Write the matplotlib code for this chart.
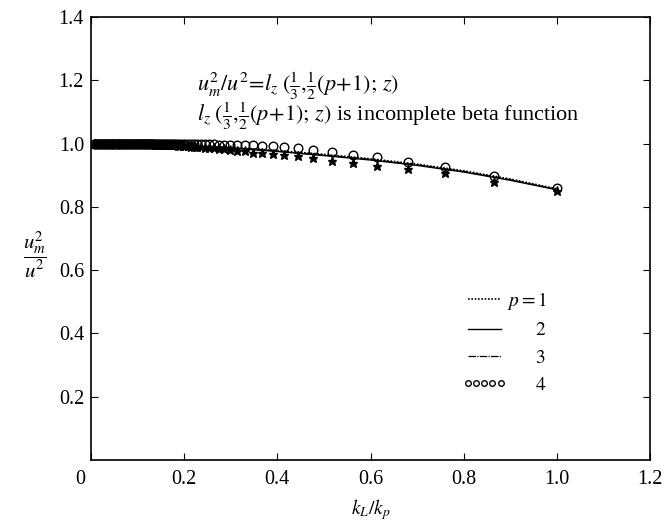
import matplotlib
matplotlib.use("Agg")
import matplotlib.pyplot as plt
from matplotlib.lines import Line2D

plt.rcParams['font.family'] = ['Liberation Serif', 'DejaVu Serif']
plt.rcParams['mathtext.fontset'] = 'stix'

# Theory curves (p = 1, 2, 3)
x_line = [0.0, 0.1, 0.2, 0.3, 0.4, 0.5, 0.6, 0.7, 0.8, 0.9, 1.0]
y_p1 = [1.0, 0.999, 0.996, 0.988, 0.978, 0.966, 0.952, 0.935, 0.914, 0.888, 0.857]
y_p2 = [1.0, 0.998, 0.994, 0.986, 0.975, 0.962, 0.948, 0.931, 0.910, 0.884, 0.854]
y_p3 = [1.0, 0.998, 0.995, 0.987, 0.976, 0.964, 0.950, 0.933, 0.912, 0.886, 0.855]

# p = 4 points (circles)
x_p4 = [1.0, 0.866, 0.760, 0.680, 0.614, 0.562, 0.517, 0.477, 0.445, 0.415,
        0.390, 0.368, 0.348, 0.330, 0.313, 0.299, 0.286, 0.274, 0.263, 0.253,
        0.244, 0.236, 0.228, 0.221, 0.214, 0.208, 0.202, 0.197, 0.192, 0.187,
        0.183, 0.179, 0.175, 0.171, 0.168, 0.165, 0.162, 0.159, 0.156, 0.153,
        0.150, 0.147, 0.144, 0.141, 0.138, 0.135, 0.132, 0.129, 0.126, 0.123,
        0.120, 0.117, 0.114, 0.111, 0.108, 0.105, 0.102, 0.099, 0.096, 0.093,
        0.090, 0.087, 0.084, 0.081, 0.078, 0.075, 0.072, 0.069, 0.066, 0.063,
        0.060, 0.057, 0.054, 0.051, 0.048, 0.045, 0.042, 0.039, 0.036, 0.033,
        0.030, 0.027, 0.024, 0.021, 0.018, 0.015, 0.012, 0.009, 0.006]
y_p4 = [0.861, 0.898, 0.925, 0.943, 0.956, 0.964, 0.973, 0.980, 0.985, 0.989,
        0.991, 0.993, 0.994, 0.995, 0.996, 0.996, 0.997, 0.997, 0.998, 0.998,
        0.998, 0.999, 0.999, 0.999, 0.999, 0.999, 0.999, 1.0, 1.0, 1.0,
        1.0, 1.0, 1.0, 1.0, 1.0, 1.0, 1.0, 1.0, 1.0, 1.0,
        1.0, 1.0, 1.0, 1.0, 1.0, 1.0, 1.0, 1.0, 1.0, 1.0,
        1.0, 1.0, 1.0, 1.0, 1.0, 1.0, 1.0, 1.0, 1.0, 1.0,
        1.0, 1.0, 1.0, 1.0, 1.0, 1.0, 1.0, 1.0, 1.0, 1.0,
        1.0, 1.0, 1.0, 1.0, 1.0, 1.0, 1.0, 1.0, 1.0, 1.0,
        1.0, 1.0, 1.0, 1.0, 1.0, 1.0, 1.0, 1.0, 1.0]

# starred points (same abscissae, slightly lower)
y_star = [0.851, 0.880, 0.906, 0.919, 0.930, 0.938, 0.946, 0.954, 0.961, 0.964,
          0.966, 0.969, 0.971, 0.975, 0.978, 0.980, 0.982, 0.984, 0.985, 0.986,
          0.987, 0.988, 0.989, 0.990, 0.990, 0.991, 0.992, 0.992, 0.993, 0.993,
          0.994, 0.994, 0.994, 0.995, 0.995, 0.995, 0.996, 0.996, 0.996, 0.996,
          0.997, 0.997, 0.997, 0.997, 0.997, 0.998, 0.998, 0.998, 0.998, 0.998,
          0.998, 0.998, 0.998, 0.998, 0.998, 0.999, 0.999, 0.999, 0.999, 0.999,
          0.999, 0.999, 0.999, 0.999, 0.999, 0.999, 0.999, 0.999, 0.999, 0.999,
          1.0, 1.0, 1.0, 1.0, 1.0, 1.0, 1.0, 1.0, 1.0, 1.0,
          1.0, 1.0, 1.0, 1.0, 1.0, 1.0, 1.0, 1.0, 1.0]

x_ticks = [0, 0.2, 0.4, 0.6, 0.8, 1.0, 1.2]
x_ticklabels = ['0    ', '0.2', '0.4', '0.6', '0.8', '1.0', '1.2']
y_ticks = [0.2, 0.4, 0.6, 0.8, 1.0, 1.2, 1.4]
y_ticklabels = ['0.2', '0.4', '0.6', '0.8', '1.0', '1.2', '1.4']

fig = plt.figure(figsize=(6.64, 5.22), dpi=100)
ax = fig.add_axes([91/664, 62/522, 559/664, 443/522])

ax.plot(x_line, y_p2, color='black', lw=1.0, ls='-')
ax.plot(x_line, y_p3, color='black', lw=0.9, ls=(0, (6, 1, 1, 1)))
ax.plot(x_line, y_p1, color='black', lw=1.2, ls=(0, (1, 1)))
ax.plot(x_p4, y_star, ls='none', marker='*', ms=6.5, color='black')
ax.plot(x_p4, y_p4, ls='none', marker='o', ms=6.2, mfc='none', mec='black', mew=1.0)

ax.set_xlim(0, 1.2)
ax.set_ylim(0, 1.4)
ax.set_xticks(x_ticks)
ax.set_xticklabels(x_ticklabels)
ax.set_yticks(y_ticks)
ax.set_yticklabels(y_ticklabels)
ax.tick_params(direction='in', top=True, right=True, length=5, width=0.8,
               labelsize=14.5)
ax.tick_params(axis='x', pad=7)
ax.tick_params(axis='y', pad=5)
for s in ax.spines.values():
    s.set_linewidth(1.2)

ax.set_xlabel(r'$k_L/k_p$', fontsize=14, labelpad=6)
fig.text(35/664, 1 - 255/522, r'$\dfrac{u_m^2}{u^2}$', fontsize=15,
         ha='center', va='center')

ax.text(0.19, 0.844, r'$u_m^2/u^2\!=\!l_z\;(\frac{1}{3},\!\frac{1}{2}(p\!+\!1);\,z)$',
        transform=ax.transAxes, fontsize=16, ha='left', va='center')
ax.text(0.19, 0.776, r'$l_z\;(\frac{1}{3},\!\frac{1}{2}(p\!+\!1);\,z)$ is incomplete beta function',
        transform=ax.transAxes, fontsize=16, ha='left', va='center')

handles = [Line2D([], [], color='black', lw=1.2, ls=(0, (1, 1))),
           Line2D([], [], color='black', lw=1.0, ls='-'),
           Line2D([], [], color='black', lw=0.9, ls=(0, (6, 1, 1, 1))),
           Line2D([], [], ls='none', marker='o', ms=4, mfc='white', mec='black', mew=1.0)]
labels = [r'$p=1$', r'$\quad\;\;\;\,2$', r'$\quad\;\;\;\,3$', r'$\quad\;\;\;\,4$']
ax.legend(handles, labels, loc='upper left', bbox_to_anchor=(0.632, 0.423),
          frameon=False, fontsize=14, handlelength=2.3, numpoints=5,
          labelspacing=0.5, handletextpad=0.0)

fig.savefig('out.png', dpi=100)
